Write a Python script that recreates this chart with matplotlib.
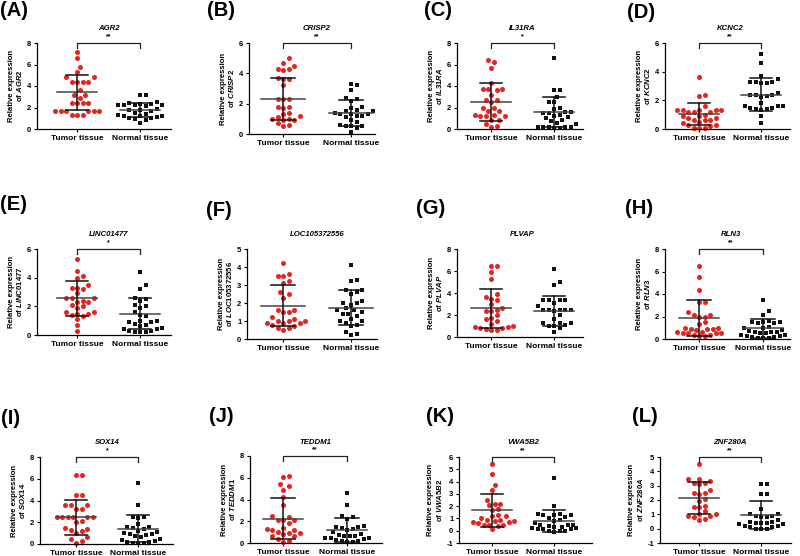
import numpy as np
import matplotlib
matplotlib.use('Agg')
import matplotlib.pyplot as plt

plt.rcParams['font.family'] = ['Liberation Sans', 'DejaVu Sans']
plt.rcParams['mathtext.fontset'] = 'custom'
plt.rcParams['mathtext.it'] = 'Liberation Sans:italic:bold'
plt.rcParams['mathtext.rm'] = 'Liberation Sans:bold'

# ---- data ----
letters = ['A', 'B', 'C', 'D', 'E', 'F', 'G', 'H', 'I', 'J', 'K', 'L']
genes = ['AGR2', 'CRISP2', 'IL31RA', 'KCNC2', 'LINC01477', 'LOC105372556',
         'PLVAP', 'RLN3', 'SOX14', 'TEDDM1', 'VWA5B2', 'ZNF280A']
groups = ['Tumor tissue', 'Normal tissue']
stars = ['**', '**', '*', '**', '*', '', '', '**', '*', '**', '**', '**']
yticks = [[0, 2, 4, 6, 8], [0, 2, 4, 6], [0, 2, 4, 6, 8], [0, 2, 4, 6],
          [0, 2, 4, 6], [0, 1, 2, 3, 4, 5], [0, 2, 4, 6, 8], [0, 2, 4, 6, 8],
          [0, 2, 4, 6, 8], [0, 2, 4, 6, 8], [-1, 0, 1, 2, 3, 4, 5, 6],
          [-1, 0, 1, 2, 3, 4, 5]]

tumor = [
    [7.2, 6.6, 5.8, 5.3, 4.8, 4.8, 4.4, 4.4, 4.4, 4.4, 3.6, 3.2, 3.2, 2.9, 2.4, 2.4,
     2.4, 2.4, 1.7, 1.7, 1.7, 1.7, 1.7, 1.7, 1.3, 1.3, 1.3],
    [5.0, 4.7, 4.5, 4.3, 4.3, 4.2, 3.7, 3.6, 3.6, 3.2, 2.3, 2.3, 2.3, 1.8, 1.8, 1.7,
     1.4, 1.3, 1.2, 1.1, 1.0, 1.0, 0.9, 0.9, 0.7, 0.6, 0.5],
    [6.4, 6.2, 5.7, 4.3, 3.7, 3.7, 3.7, 3.6, 3.2, 2.7, 2.7, 2.5, 2.0, 2.0, 1.7, 1.7,
     1.3, 1.3, 1.2, 1.2, 1.2, 0.8, 0.8, 0.5, 0.3, 0.2],
    [3.6, 2.4, 2.3, 1.6, 1.3, 1.3, 1.3, 1.3, 1.3, 1.2, 1.2, 1.2, 1.0, 0.9, 0.9, 0.8,
     0.8, 0.6, 0.6, 0.6, 0.5, 0.4, 0.3, 0.3, 0.2, 0.1, 0.1, 0.1],
    [5.3, 4.5, 4.1, 4.0, 3.5, 3.3, 3.3, 3.2, 2.9, 2.6, 2.6, 2.6, 2.4, 2.3, 2.3, 2.1,
     2.0, 1.9, 1.6, 1.6, 1.5, 1.5, 1.4, 1.3, 1.1, 0.7, 0.3],
    [4.2, 3.6, 3.5, 3.5, 3.2, 3.1, 2.6, 2.5, 2.3, 1.6, 1.6, 1.5, 1.5, 1.2, 1.1, 1.0,
     1.0, 1.0, 0.9, 0.9, 0.9, 0.8, 0.7, 0.6, 0.6, 0.5],
    [6.5, 6.5, 5.9, 5.3, 3.9, 3.6, 3.5, 3.4, 3.0, 2.6, 2.5, 2.4, 2.4, 2.0, 1.7, 1.6,
     1.5, 1.2, 1.0, 0.9, 0.9, 0.8, 0.8, 0.7, 0.6, 0.6],
    [6.5, 5.5, 4.4, 3.3, 3.3, 2.4, 2.1, 2.1, 2.0, 2.0, 1.5, 1.3, 1.0, 1.0, 0.9, 0.9,
     0.9, 0.8, 0.6, 0.6, 0.5, 0.5, 0.5, 0.5, 0.4, 0.4, 0.3, 0.3],
    [6.3, 6.3, 4.5, 4.5, 3.6, 3.6, 3.6, 3.2, 3.2, 2.5, 2.5, 2.5, 2.5, 2.5, 2.5, 2.1,
     2.0, 1.5, 1.4, 1.3, 1.2, 1.0, 0.6, 0.5, 0.3, 0.1],
    [6.2, 6.1, 5.4, 5.2, 4.9, 4.2, 3.5, 2.5, 2.4, 2.1, 2.1, 2.1, 1.8, 1.4, 1.3, 1.2,
     1.2, 1.0, 0.9, 0.9, 0.8, 0.6, 0.6, 0.4, 0.2, 0.1],
    [5.4, 4.6, 3.7, 3.3, 2.5, 2.2, 2.2, 2.1, 1.8, 1.7, 1.3, 1.2, 1.2, 1.0, 0.9, 0.9,
     0.8, 0.8, 0.7, 0.7, 0.6, 0.5, 0.5, 0.5, 0.4, 0.1],
    [4.5, 3.5, 3.5, 3.3, 3.2, 3.2, 3.1, 2.7, 2.5, 2.5, 2.4, 2.1, 1.9, 1.6, 1.5, 1.5,
     1.2, 1.0, 1.0, 0.9, 0.9, 0.8, 0.7, 0.6],
]
normal = [
    [3.2, 3.2, 2.5, 2.4, 2.3, 2.3, 2.2, 2.2, 2.2, 2.2, 2.1, 1.9, 1.8, 1.8, 1.7, 1.5,
     1.4, 1.3, 1.2, 1.2, 1.2, 1.1, 1.0, 1.0, 0.9, 0.8, 0.6],
    [3.3, 3.2, 2.9, 2.4, 2.3, 2.2, 1.8, 1.7, 1.6, 1.5, 1.5, 1.4, 1.3, 1.3, 1.3, 1.2,
     1.2, 1.1, 0.9, 0.8, 0.6, 0.5, 0.5, 0.5, 0.4, 0.1],
    [6.6, 3.6, 3.6, 3.0, 2.5, 2.5, 2.0, 1.9, 1.6, 1.6, 1.5, 1.5, 1.3, 1.2, 1.1, 1.0,
     0.8, 0.7, 0.6, 0.5, 0.2, 0.2, 0.2, 0.2, 0.2, 0.1, 0.1],
    [5.2, 4.6, 3.7, 3.5, 3.3, 3.3, 3.3, 3.2, 3.2, 2.5, 2.4, 2.4, 2.4, 2.3, 2.2, 1.8,
     1.6, 1.6, 1.6, 1.5, 1.5, 1.4, 1.4, 1.3, 0.9, 0.4],
    [4.4, 3.5, 3.2, 2.6, 2.5, 2.4, 2.1, 2.0, 1.9, 1.6, 1.4, 1.3, 1.0, 1.0, 0.9, 0.9,
     0.8, 0.7, 0.6, 0.5, 0.4, 0.4, 0.3, 0.3, 0.2, 0.2, 0.2],
    [4.1, 3.3, 3.2, 2.7, 2.7, 2.6, 2.5, 2.1, 2.0, 2.0, 1.9, 1.7, 1.6, 1.6, 1.5, 1.4,
     1.4, 1.3, 1.1, 1.0, 1.0, 0.9, 0.8, 0.7, 0.4, 0.3, 0.2],
    [6.2, 5.0, 4.7, 3.4, 3.4, 3.4, 3.4, 3.1, 2.8, 2.5, 2.5, 2.5, 2.5, 2.5, 2.4, 2.0,
     1.6, 1.3, 1.3, 1.3, 1.1, 1.0, 1.0, 0.8, 0.5],
    [3.5, 2.5, 2.1, 1.6, 1.5, 1.5, 1.5, 1.4, 1.4, 1.1, 1.0, 1.0, 0.8, 0.7, 0.6, 0.6,
     0.6, 0.5, 0.5, 0.4, 0.4, 0.3, 0.3, 0.2, 0.2, 0.1, 0.1, 0.1],
    [5.6, 3.6, 2.5, 2.5, 2.4, 1.8, 1.6, 1.6, 1.5, 1.4, 1.2, 1.1, 1.0, 0.9, 0.9, 0.8,
     0.7, 0.6, 0.5, 0.4, 0.3, 0.2, 0.2, 0.1, 0.1, 0.1],
    [4.6, 3.5, 2.5, 2.4, 2.2, 1.6, 1.5, 1.5, 1.4, 1.3, 1.2, 1.0, 0.8, 0.7, 0.6, 0.6,
     0.6, 0.5, 0.5, 0.5, 0.4, 0.3, 0.2, 0.2, 0.1, 0.1],
    [4.3, 2.0, 1.4, 1.4, 1.3, 1.3, 1.3, 1.1, 1.0, 0.9, 0.8, 0.6, 0.5, 0.5, 0.5, 0.4,
     0.3, 0.3, 0.2, 0.2, 0.1, 0.1, 0.1, 0.0, 0.0, 0.0, -0.1],
    [3.1, 3.1, 2.4, 2.4, 1.4, 1.0, 1.0, 0.9, 0.9, 0.8, 0.8, 0.6, 0.5, 0.5, 0.4, 0.4,
     0.4, 0.3, 0.3, 0.2, 0.2, 0.1, 0.1, 0.0, 0.0, -0.05],
]
# mean and SD as drawn in the figure (tumor, normal)
means = [(3.4, 1.8), (2.3, 1.4), (2.5, 1.6), (1.05, 2.4), (2.55, 1.5), (1.85, 1.75),
         (2.6, 2.4), (1.9, 0.95), (2.45, 1.4), (2.25, 1.2), (1.65, 0.8), (2.15, 0.95)]
sds = [(1.65, 0.65), (1.4, 0.85), (1.75, 1.4), (0.77, 1.15), (1.22, 1.08), (1.14, 0.95),
       (1.8, 1.37), (1.6, 0.82), (1.63, 1.25), (1.85, 1.1), (1.33, 0.88), (1.13, 1.0)]

# ---- layout in pixels: left, right, top, bottom, tumor x, normal x ----
W, H = 800, 556
boxes = [(37, 171, 43, 129, 77, 140), (249, 375, 43, 134, 283, 351),
         (457, 583, 43, 129, 491, 554), (665, 790, 43, 129, 699, 761),
         (37, 171, 249, 335, 77, 140), (247, 377, 249, 339, 283, 351),
         (457, 583, 249, 337, 491, 554), (665, 790, 249, 339, 699, 763),
         (40, 173, 457, 544, 76, 138), (250, 382, 456, 543, 283, 347),
         (459, 592, 457, 543, 492, 554), (660, 791, 457, 543, 699, 761)]
letter_pos = [(0, 11), (207, 11), (424, 11), (627, 13), (0, 205), (206, 210),
              (416, 209), (625, 209), (1, 419), (209, 417), (426, 417), (632, 417)]
title_y = [28, 28, 28, 28, 235, 235, 235, 235, 443, 443, 443, 443]


def swarm(vals, ppu_x, ppu_y, d=5.5, wmax=22.0):
    # simple beeswarm in pixel space, width capped like the scatter dot plot
    vals = np.asarray(vals, float)
    xs = np.zeros(len(vals))
    placed = []
    cands = [0.0]
    for j in range(1, int(2 * wmax / d) + 1):
        cands += [j * d / 2, -j * d / 2]
    for i in np.argsort(vals):
        y = vals[i] * ppu_y
        best, best_d = 0.0, -1.0
        for c in cands:
            md = min([np.hypot(c - px, y - py) for px, py in placed] or [1e9])
            if md >= d:
                best = c
                break
            if md > best_d + 0.5:
                best, best_d = c, md
        placed.append((best, y))
        xs[i] = best / ppu_x
    return xs


fig = plt.figure(figsize=(8, 5.56), dpi=100)
red = '#e3241f'

for k in range(12):
    L, R, T, B, tx, nx = boxes[k]
    ax = fig.add_axes([L / W, 1 - B / H, (R - L) / W, (B - T) / H])
    unit = nx - tx
    ax.set_xlim(-(tx - L) / unit, 1 + (R - nx) / unit)
    ylo, yhi = yticks[k][0], yticks[k][-1]
    ax.set_ylim(ylo, yhi)
    ppu_y = (B - T) / (yhi - ylo)

    for g, (vals, col, mk) in enumerate([(tumor[k], red, 'o'), (normal[k], '#111111', 's')]):
        xo = swarm(vals, unit, ppu_y)
        ax.scatter(g + xo, vals, s=13 if mk == 'o' else 12, marker=mk, color=col,
                   linewidths=0, zorder=2, clip_on=False)
        m, s = means[k][g], sds[k][g]
        ax.plot([g - 0.32, g + 0.32], [m, m], color='#444444', lw=1.1, zorder=3)
        ax.plot([g, g], [m - s, m + s], color='#111111', lw=1.1, zorder=3)
        for yy in (m - s, m + s):
            ax.plot([g - 0.18, g + 0.18], [yy, yy], color='#111111', lw=1.1, zorder=3)

    if stars[k]:
        drop = 5 / ppu_y
        ax.plot([0, 0, 1, 1], [yhi - drop, yhi, yhi, yhi - drop], color='#222222',
                lw=0.9, clip_on=False)
        ax.text(0.5, yhi + 2.5 / ppu_y, stars[k], ha='center', va='bottom',
                fontsize=5, fontweight='bold')

    for side in ('top', 'right'):
        ax.spines[side].set_visible(False)
    ax.spines['left'].set_linewidth(0.9)
    ax.spines['bottom'].set_linewidth(0.9)
    ax.spines['left'].set_bounds(ylo, yhi)
    ax.set_yticks(yticks[k])
    ax.set_yticklabels([str(v) for v in yticks[k]], fontsize=5.5, fontweight='bold')
    ax.set_xticks([0, 1])
    ax.set_xticklabels(groups, fontsize=6, fontweight='bold')
    ax.tick_params(axis='both', length=2.5, width=0.8, pad=1.5)
    ax.set_ylabel('Relative expression\nof $\\mathit{' + genes[k] + '}$', fontsize=5.6,
                  fontweight='bold', labelpad=2, linespacing=1.1)

    fig.text((tx + nx) / 2 / W, 1 - title_y[k] / H, genes[k], ha='center', va='center',
             fontsize=5.6, fontweight='bold', style='italic')
    lx, ly = letter_pos[k]
    fig.text(lx / W, 1 - ly / H, '(' + letters[k] + ')', ha='left', va='center',
             fontsize=14.5, fontweight='bold')

fig.savefig('out.png', dpi=100)
